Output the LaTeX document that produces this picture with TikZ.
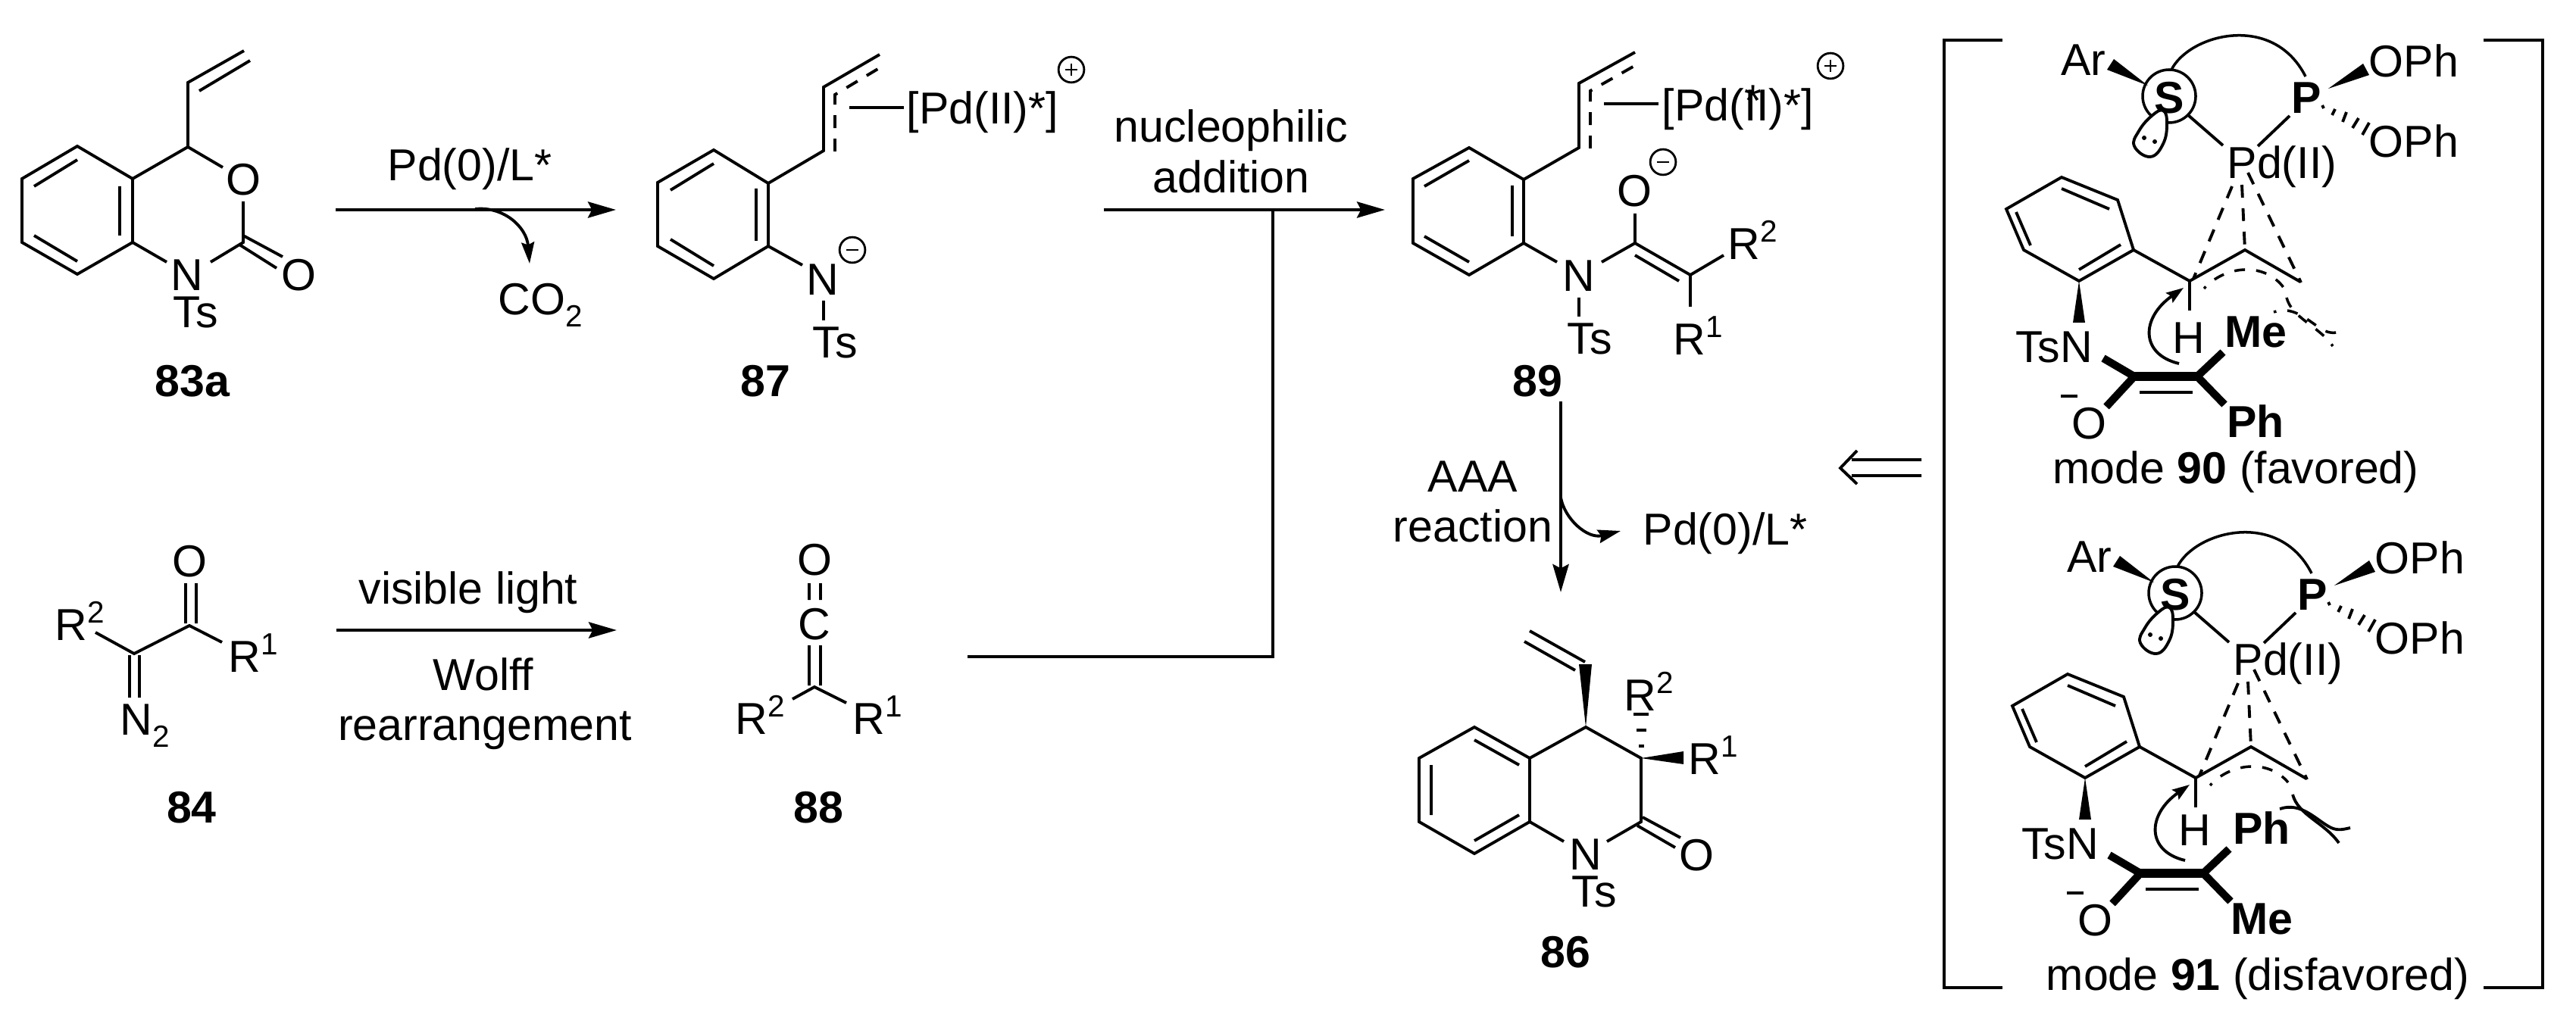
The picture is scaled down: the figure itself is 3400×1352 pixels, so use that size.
\documentclass[tikz,border=0pt]{standalone}
\usepackage{fontspec}
\setmainfont{Liberation Sans}
\usetikzlibrary{arrows.meta,positioning}
\newcommand{\labfont}{\fontsize{16.8}{20}\selectfont}
\newcommand{\supnum}[1]{\raisebox{6.5pt}{\fontsize{11.5}{13}\selectfont #1}}
\newcommand{\subnum}[1]{\raisebox{-4.8pt}{\fontsize{11.5}{13}\selectfont #1}}
\tikzset{
  bond/.style={line width=1.1pt},
  dashbond/.style={line width=1.1pt,dash pattern=on 4.8pt off 4pt},
  arcbond/.style={line width=1pt,dash pattern=on 4pt off 4.2pt,dash phase=3pt},
  heavybond/.style={line width=3.4pt},
  sidebond/.style={line width=2.9pt},
  rxn/.style={line width=1.3pt,-{Stealth[length=10.5pt,width=6pt,inset=1.5pt]}},
  curvearr/.style={line width=1.1pt,-{Stealth[length=8pt,width=4.8pt,inset=1pt]}},
  lab/.style={inner sep=0pt,font=\labfont,text height=12pt,text depth=0pt},
  boldlab/.style={lab,font=\labfont\bfseries},
  charge/.style={circle,draw,line width=.8pt,minimum size=9.6pt,inner sep=0pt}
}
% one transition state, #1 names, #2 and #3 the bold groups, #4 height of H
\newcommand{\modegroup}[4]{
  \node[lab] (#1ar) at (2750,78) {Ar};
  \fill (2835,113)--(2790,78)--(2781,92)--cycle;
  \draw[line width=1pt] (2863,127) circle (35);
  \node[boldlab] (#1s) at (2863,128) {S};
  \draw[bond,fill=white] plot[smooth cycle,tension=.75] coordinates {(2855,146) (2860,163) (2855,190) (2838,207) (2817,193) (2823,173) (2840,153)};
  \fill (2830,182) circle (3) (2844,187) circle (3);
  \draw[line width=1pt] (2866,92) .. controls (2890,45) and (3000,16) .. (3043,101);
  \node[boldlab] (#1p) at (3044,128) {P};
  \node[lab] (#1oa) at (3186,80) {OPh};
  \node[lab] (#1ob) at (3186,186) {OPh};
  \fill (3073,117)--(3119,84)--(3127,99)--cycle;
  \draw[bond] (3065,139)--(3067,143) (3082,144)--(3078,152) (3097,148)--(3092,161) (3113,156)--(3105,169) (3127,162)--(3118,178);
  \node[lab,anchor=west] (#1pd) at (2939,214) {Pd(II)};
  \draw[bond] (2888,152)--(2934,192) (3022,153)--(2980,193);
  \draw[dashbond] (2946,246)--(2895,368);
  \draw[dashbond] (2959,244)--(2963,330);
  \draw[dashbond] (2967,228)--(3037,373);
  \draw[bond] (2816,330)--(2890,371)--(2963,330)--(3036,372);
  \draw[bond] (2890,371)--(2890,410);
  \node[lab] (#1h) at (2889,#4) {H};
  \draw[bond] (2721,234)--(2795,264)--(2816,330)--(2744,371)--(2671,330)--(2648,276)--cycle;
  \draw[bond] (2721,249)--(2784,276) (2661,280)--(2680,324) (2744,356)--(2799,323);
  \fill (2744,371)--(2736,426)--(2752,426)--cycle;
  \node[lab] (#1tsn) at (2711,457) {TsN};
  \draw[curvearr,-{Stealth[length=6.5pt,width=4.4pt,inset=1pt]}] (2876,480) .. controls (2825,468) and (2825,420) .. (2882,380);
  \draw[heavybond] (2815,497)--(2902,497);
  \draw[bond] (2824,518)--(2894,518);
  \draw[sidebond] (2817,497)--(2776,473) (2817,497)--(2780,537) (2900,497)--(2934,465) (2900,497)--(2936,534);
  \node[lab] (#1o) at (2757,558) {O};
  \draw[bond] (2720,523)--(2742,523);
  \node[boldlab] (#1top) at (2977,437) {#2};
  \node[boldlab] (#1bot) at (2977,556) {#3};
}
\begin{document}
\begin{tikzpicture}[x=0.01cm,y=-0.01cm]
  \useasboundingbox (0,0) rectangle (3400,1352);
  % 83a
  \draw[bond] (102,193)--(175,236)--(175,320)--(102,362)--(29,320)--(29,236)--cycle;
  \draw[bond] (45,246)--(102,211) (45,311)--(102,345) (158,246)--(158,311);
  \draw[bond] (175,236)--(248,194)--(294,221) (248,194)--(248,109)--(322,67) (263,120)--(330,80);
  \draw[bond] (321,266)--(321,320)--(278,346) (175,320)--(220,346);
  \draw[bond] (321,311)--(373,339) (316,323)--(365,354);
  \node[lab] (o83a) at (321,236) {O};
  \node[lab] (n83a) at (247,362) {N};
  \node[lab] (oo83a) at (394,362) {O};
  \node[lab] (ts83a) at (258,411) {Ts};
  \node[boldlab] (c83a) at (254,502) {83a};
  % first arrow and carbon dioxide
  \coordinate (pdS) at (443,277);
  \coordinate (pdE) at (813,277);
  \draw[rxn] (pdS)--(pdE);
  \node[lab] (pdcat) at (620,217) {Pd(0)/L*};
  \coordinate (coS) at (627,276);
  \node[lab,anchor=west] (cotwo) at (657,394) {CO\subnum{2}};
  \coordinate (coE) at (699,348);
  \draw[curvearr] (coS) .. controls (665,272) and (695,300) .. (coE);
  % 87
  \draw[bond] (942,198)--(1014,242)--(1014,325)--(942,368)--(868,325)--(868,241)--cycle;
  \draw[bond] (885,251)--(942,216) (885,316)--(942,351) (998,249)--(998,318);
  \draw[bond] (1014,242)--(1087,199)--(1087,115)--(1161,72);
  \draw[dashbond] (1102,200)--(1102,125)--(1167,86);
  \draw[bond] (1121,142)--(1193,142);
  \node[lab,anchor=west] (pd87) at (1196,142) {[Pd(II)*]};
  \node[charge] (plus87) at (1414,92) {};
  \draw[line width=.8pt] (1406,92)--(1422,92) (1414,84)--(1414,100);
  \draw[bond] (1014,325)--(1059,350) (1087,397)--(1087,423);
  \node[lab] (n87) at (1086,368) {N};
  \node[charge] (minus87) at (1125,330) {};
  \draw[line width=.8pt] (1117,330)--(1133,330);
  \node[lab] (ts87) at (1102,451) {Ts};
  \node[boldlab] (c87) at (1010,502) {87};
  % nucleophilic addition arrow and the line from ketene
  \coordinate (nuS) at (1457,277);
  \coordinate (nuE) at (1828,277);
  \coordinate (keS) at (1277,867);
  \coordinate (keC) at (1680,867);
  \coordinate (keE) at (1680,277);
  \draw[rxn] (nuS)--(nuE);
  \draw[line width=1.1pt] (keS)--(keC)--(keE);
  \node[lab] (nuA) at (1625,166) {nucleophilic};
  \node[lab] (nuB) at (1625,233) {addition};
  % 89
  \draw[bond] (1939,195)--(2011,237)--(2011,321)--(1939,363)--(1865,321)--(1865,236)--cycle;
  \draw[bond] (1880,246)--(1939,212) (1880,312)--(1939,346) (1996,245)--(1996,312);
  \draw[bond] (2011,237)--(2084,195)--(2084,110)--(2158,69);
  \draw[dashbond] (2099,196)--(2099,120)--(2166,82);
  \draw[bond] (2117,137)--(2189,137);
  \node[lab,anchor=west] (pd89) at (2193,138) {[Pd(II)*]};
  \node[lab] (star89) at (2314,132) {*};
  \node[charge] (plus89) at (2416,87) {};
  \draw[line width=.8pt] (2408,87)--(2424,87) (2416,79)--(2416,95);
  \node[lab] (o89) at (2157,251) {O};
  \node[charge] (minus89) at (2195,214) {};
  \draw[line width=.8pt] (2187,214)--(2203,214);
  \draw[bond] (2158,282)--(2158,321)--(2114,346) (2011,321)--(2055,346) (2158,321)--(2231,363)--(2275,337) (2231,363)--(2231,405) (2158,337)--(2216,371) (2084,393)--(2084,418);
  \node[lab] (n89) at (2084,363) {N};
  \node[lab] (ts89) at (2098,446) {Ts};
  \node[lab,anchor=west] (rb89) at (2280,321) {R\supnum{2}};
  \node[lab,anchor=west] (ra89) at (2208,447) {R\supnum{1}};
  \node[boldlab] (c89) at (2029,502) {89};
  % AAA arrow
  \coordinate (aaS) at (2060,530);
  \coordinate (aaE) at (2060,782);
  \draw[rxn] (aaS)--(aaE);
  \coordinate (paS) at (2060,657);
  \coordinate (paE) at (2139,701);
  \draw[curvearr,-{Stealth[length=8.5pt,width=5pt,inset=1pt]}] (paS) .. controls (2065,685) and (2095,712) .. (paE);
  \node[lab] (aaA) at (1944,628) {AAA};
  \node[lab] (aaB) at (1944,694) {reaction};
  \node[lab,anchor=west] (pdback) at (2168,698) {Pd(0)/L*};
  % 84
  \draw[bond] (245,770)--(245,823) (259,770)--(259,823) (293,848)--(250,826)--(177,863)--(126,835) (171,865)--(171,921) (184,865)--(184,921);
  \node[lab] (o84) at (250,740) {O};
  \node[lab,anchor=west] (rb84) at (72,824) {R\supnum{2}};
  \node[lab,anchor=west] (ra84) at (301,866) {R\supnum{1}};
  \node[lab,anchor=west] (n84) at (158,949) {N\subnum{2}};
  \node[boldlab] (c84) at (253,1065) {84};
  % Wolff arrow
  \coordinate (woS) at (444,832);
  \coordinate (woE) at (814,832);
  \draw[rxn] (woS)--(woE);
  \node[lab] (woA) at (618,776) {visible light};
  \node[lab] (woB) at (638,890) {Wolff};
  \node[lab] (woC) at (640,956) {rearrangement};
  % 88
  \draw[bond] (1068,770)--(1068,792) (1083,770)--(1083,792) (1068,852)--(1068,905) (1083,852)--(1083,905) (1046,923)--(1075,907)--(1117,928);
  \node[lab] (o88) at (1075,738) {O};
  \node[lab] (c88) at (1075,823) {C};
  \node[lab,anchor=west] (rb88) at (970,948) {R\supnum{2}};
  \node[lab,anchor=west] (ra88) at (1125,948) {R\supnum{1}};
  \node[boldlab] (l88) at (1080,1065) {88};
  % 86
  \draw[bond] (1946,960)--(2019,1001)--(2019,1085)--(1946,1127)--(1873,1085)--(1873,1001)--cycle;
  \draw[bond] (1946,977)--(2005,1010) (1889,1010)--(1889,1076) (1946,1110)--(2005,1076);
  \draw[bond] (2019,1001)--(2093,960)--(2166,1001)--(2166,1085)--(2121,1111) (2019,1085)--(2064,1111);
  \draw[bond] (2168,1079)--(2218,1106) (2161,1090)--(2211,1119);
  \fill (2093,960)--(2084,877)--(2101,877)--cycle;
  \draw[bond] (2019,833)--(2092,874) (2012,847)--(2079,885);
  \fill (2166,1001)--(2222,992)--(2222,1009)--cycle;
  \draw[bond] (2163,985)--(2170,985) (2160,964)--(2173,964) (2156,943)--(2176,943);
  \node[lab] (n86) at (2093,1127) {N};
  \node[lab] (ts86) at (2104,1176) {Ts};
  \node[lab] (o86) at (2239,1128) {O};
  \node[lab,anchor=west] (rb86) at (2143,917) {R\supnum{2}};
  \node[lab,anchor=west] (ra86) at (2228,1001) {R\supnum{1}};
  \node[boldlab] (c86) at (2066,1256) {86};
  % retro arrow and brackets
  \draw[bond] (2444,607)--(2536,607) (2444,628)--(2536,628) (2451,595)--(2429,618)--(2451,639);
  \draw[line width=1.1pt] (2643,53)--(2566,53)--(2566,1304)--(2643,1304);
  \draw[line width=1.1pt] (3278,53)--(3356,53)--(3356,1304)--(3278,1304);
  % mode 90
  \modegroup{ma}{Me}{Ph}{445}
  \draw[arcbond] (2909,381) .. controls (2935,352) and (2985,345) .. (3012,377) .. controls (3016,381) and (3017,388) .. (3018,393) .. controls (3025,420) and (3060,430) .. (3079,457);
  \draw[arcbond] (3001,412) .. controls (3030,402) and (3050,428) .. (3069,437) .. controls (3078,441) and (3085,439) .. (3094,437);
  \node[lab] (capa) at (2951,617) {mode \textbf{90} (favored)};
  % mode 91
  \begin{scope}[shift={(8,656)}]
    \modegroup{mb}{Ph}{Me}{439}
    \draw[arcbond] (2909,381) .. controls (2935,352) and (2985,345) .. (3012,377);
    \draw[line width=1.1pt] (3018,393) .. controls (3025,420) and (3060,430) .. (3079,457);
    \draw[line width=1.1pt] (3001,412) .. controls (3030,402) and (3050,428) .. (3069,437) .. controls (3078,441) and (3085,439) .. (3094,437);
  \end{scope}
  \node[lab] (capb) at (2980,1286) {mode \textbf{91} (disfavored)};
\end{tikzpicture}
\end{document}
